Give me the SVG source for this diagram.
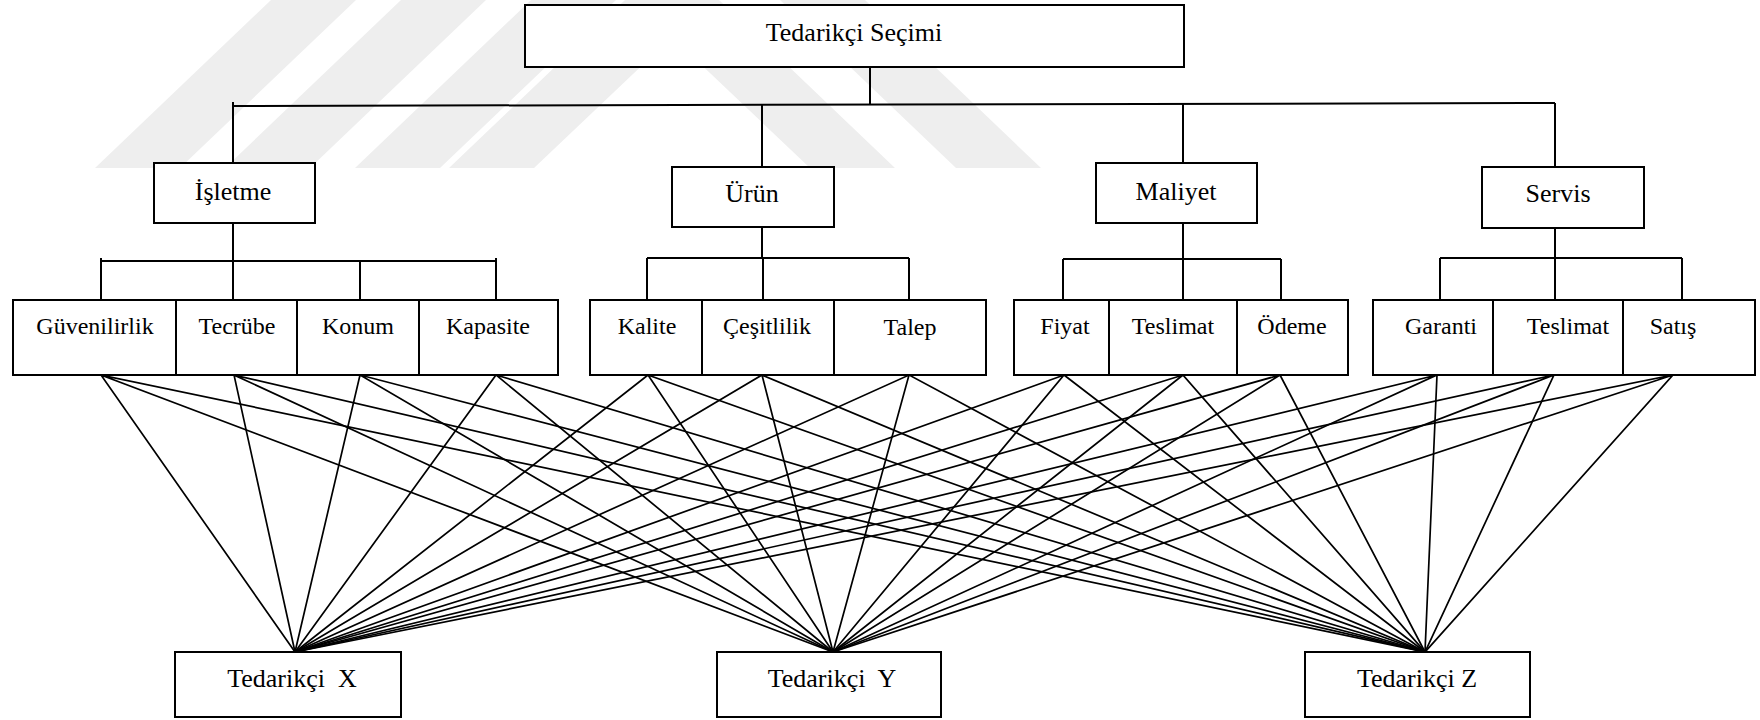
<svg xmlns="http://www.w3.org/2000/svg" width="1760" height="720" viewBox="0 0 1760 720">
  <style>
    .box { fill: #ffffff; stroke: #000000; stroke-width: 2; }
    .ln { stroke: #000000; stroke-width: 1.7; fill: none; stroke-linecap: square; }
    .tree { stroke: #000000; stroke-width: 2; fill: none; }
    .lbl { font-family: "Liberation Serif", "DejaVu Serif", "Times New Roman", serif; fill: #000000; text-anchor: middle; }
    .h1 { font-size: 26px; }
    .h2 { font-size: 24px; }
    .wm { fill: #eeeeee; }
  </style>

  <rect width="1760" height="720" fill="#ffffff"/>

  <!-- faint background mark -->
  <g id="mark">
    <polygon class="wm" points="95,168 180,168 356,0 271,0"/>
    <polygon class="wm" points="225,168 310,168 486,0 401,0"/>
    <polygon class="wm" points="355,168 440,168 616,0 531,0"/>
    <polygon class="wm" points="449,168 534,168 672,37 810,168 895,168 719,0 625,0"/>
    <polygon class="wm" points="780,0 865,0 1041,168 956,168"/>
  </g>

  <!-- tree branches -->
  <g id="branches">
    <line class="tree" x1="870" y1="67" x2="870" y2="104"/>
    <line class="tree" x1="233" y1="106" x2="1555" y2="103"/>
    <line class="tree" x1="233" y1="102" x2="233" y2="163"/>
    <line class="tree" x1="762" y1="105" x2="762" y2="167"/>
    <line class="tree" x1="1183" y1="104" x2="1183" y2="163"/>
    <line class="tree" x1="1555" y1="103" x2="1555" y2="167"/>

    <line class="tree" x1="233" y1="223" x2="233" y2="300"/>
    <line class="tree" x1="101" y1="261" x2="496" y2="261"/>
    <line class="tree" x1="101" y1="258" x2="101" y2="300"/>
    <line class="tree" x1="360" y1="261" x2="360" y2="300"/>
    <line class="tree" x1="496" y1="258" x2="496" y2="300"/>

    <line class="tree" x1="762" y1="227" x2="762" y2="258"/>
    <line class="tree" x1="647" y1="258" x2="909" y2="258"/>
    <line class="tree" x1="647" y1="258" x2="647" y2="300"/>
    <line class="tree" x1="763" y1="258" x2="763" y2="300"/>
    <line class="tree" x1="909" y1="258" x2="909" y2="300"/>

    <line class="tree" x1="1183" y1="223" x2="1183" y2="300"/>
    <line class="tree" x1="1063" y1="259" x2="1281" y2="259"/>
    <line class="tree" x1="1063" y1="259" x2="1063" y2="300"/>
    <line class="tree" x1="1281" y1="259" x2="1281" y2="300"/>

    <line class="tree" x1="1555" y1="228" x2="1555" y2="300"/>
    <line class="tree" x1="1440" y1="258" x2="1682" y2="258"/>
    <line class="tree" x1="1440" y1="258" x2="1440" y2="300"/>
    <line class="tree" x1="1682" y1="258" x2="1682" y2="300"/>
  </g>

  <!-- criterion to supplier links -->
  <g id="links">
    <path class="ln" d="M101,375 L295,652 M101,375 L833,652 M101,375 L1425,652"/>
    <path class="ln" d="M234,375 L295,652 M234,375 L833,652 M234,375 L1425,652"/>
    <path class="ln" d="M360,375 L295,652 M360,375 L833,652 M360,375 L1425,652"/>
    <path class="ln" d="M496,375 L295,652 M496,375 L833,652 M496,375 L1425,652"/>
    <path class="ln" d="M648,375 L295,652 M648,375 L833,652 M648,375 L1425,652"/>
    <path class="ln" d="M762,375 L295,652 M762,375 L833,652 M762,375 L1425,652"/>
    <path class="ln" d="M909,375 L295,652 M909,375 L833,652 M909,375 L1425,652"/>
    <path class="ln" d="M1064,375 L295,652 M1064,375 L833,652 M1064,375 L1425,652"/>
    <path class="ln" d="M1183,375 L295,652 M1183,375 L833,652 M1183,375 L1425,652"/>
    <path class="ln" d="M1280,375 L295,652 M1280,375 L833,652 M1280,375 L1425,652"/>
    <path class="ln" d="M1437,375 L295,652 M1437,375 L833,652 M1437,375 L1425,652"/>
    <path class="ln" d="M1554,375 L295,652 M1554,375 L833,652 M1554,375 L1425,652"/>
    <path class="ln" d="M1673,375 L295,652 M1673,375 L833,652 M1673,375 L1425,652"/>
  </g>

  <!-- goal -->
  <g id="goal">
    <rect class="box" x="525" y="5" width="659" height="62"/>
    <text class="lbl h1" x="854" y="41">Tedarikçi Seçimi</text>
  </g>

  <!-- main criteria -->
  <g id="isletme">
    <rect class="box" x="154" y="163" width="161" height="60"/>
    <text class="lbl h1" x="233" y="200">İşletme</text>
  </g>
  <g id="urun">
    <rect class="box" x="672" y="167" width="162" height="60"/>
    <text class="lbl h1" x="752" y="202">Ürün</text>
  </g>
  <g id="maliyet">
    <rect class="box" x="1096" y="163" width="161" height="60"/>
    <text class="lbl h1" x="1176" y="200">Maliyet</text>
  </g>
  <g id="servis">
    <rect class="box" x="1482" y="167" width="162" height="61"/>
    <text class="lbl h1" x="1558" y="202">Servis</text>
  </g>

  <!-- sub criteria -->
  <g id="guvenilirlik">
    <rect class="box" x="13" y="300" width="163" height="75"/>
    <text class="lbl h2" x="95" y="334">Güvenilirlik</text>
  </g>
  <g id="tecrube">
    <rect class="box" x="176" y="300" width="121" height="75"/>
    <text class="lbl h2" x="237" y="334">Tecrübe</text>
  </g>
  <g id="konum">
    <rect class="box" x="297" y="300" width="122" height="75"/>
    <text class="lbl h2" x="358" y="334">Konum</text>
  </g>
  <g id="kapasite">
    <rect class="box" x="419" y="300" width="139" height="75"/>
    <text class="lbl h2" x="488" y="334">Kapasite</text>
  </g>

  <g id="kalite">
    <rect class="box" x="590" y="300" width="112" height="75"/>
    <text class="lbl h2" x="647" y="334">Kalite</text>
  </g>
  <g id="cesitlilik">
    <rect class="box" x="702" y="300" width="132" height="75"/>
    <text class="lbl h2" x="767" y="334">Çeşitlilik</text>
  </g>
  <g id="talep">
    <rect class="box" x="834" y="300" width="152" height="75"/>
    <text class="lbl h2" x="910" y="335">Talep</text>
  </g>

  <g id="fiyat">
    <rect class="box" x="1014" y="300" width="95" height="75"/>
    <text class="lbl h2" x="1065" y="334">Fiyat</text>
  </g>
  <g id="teslimat-maliyet">
    <rect class="box" x="1109" y="300" width="128" height="75"/>
    <text class="lbl h2" x="1173" y="334">Teslimat</text>
  </g>
  <g id="odeme">
    <rect class="box" x="1237" y="300" width="111" height="75"/>
    <text class="lbl h2" x="1292" y="334">Ödeme</text>
  </g>

  <g id="garanti">
    <rect class="box" x="1373" y="300" width="120" height="75"/>
    <text class="lbl h2" x="1441" y="334">Garanti</text>
  </g>
  <g id="teslimat-servis">
    <rect class="box" x="1493" y="300" width="130" height="75"/>
    <text class="lbl h2" x="1568" y="334">Teslimat</text>
  </g>
  <g id="satis">
    <rect class="box" x="1623" y="300" width="132" height="75"/>
    <text class="lbl h2" x="1673" y="334">Satış</text>
  </g>

  <!-- alternatives -->
  <g id="tedarikci-x">
    <rect class="box" x="175" y="652" width="226" height="65"/>
    <text class="lbl h1" x="292" y="687" xml:space="preserve">Tedarikçi  X</text>
  </g>
  <g id="tedarikci-y">
    <rect class="box" x="717" y="652" width="224" height="65"/>
    <text class="lbl h1" x="832" y="687" xml:space="preserve">Tedarikçi  Y</text>
  </g>
  <g id="tedarikci-z">
    <rect class="box" x="1305" y="652" width="225" height="65"/>
    <text class="lbl h1" x="1417" y="687">Tedarikçi Z</text>
  </g>
</svg>
